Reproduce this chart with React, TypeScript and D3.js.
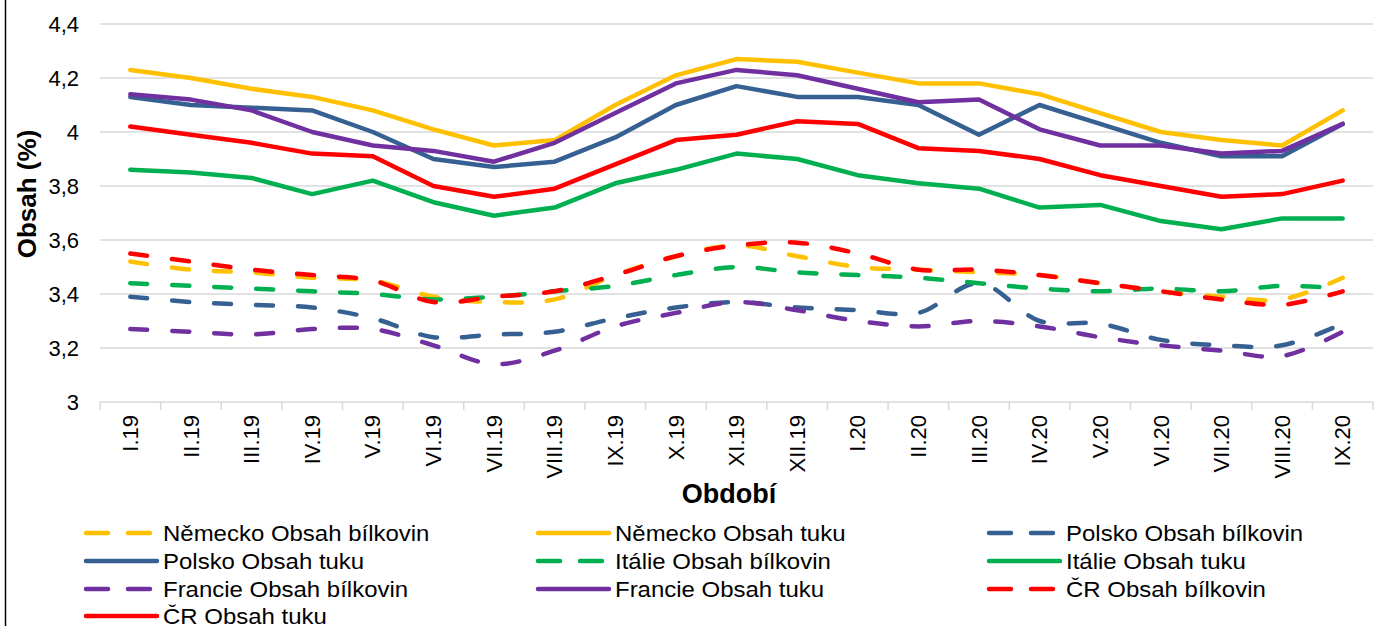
import React from "react";
import * as d3 from "d3";

const categories = ["I.19","II.19","III.19","IV.19","V.19","VI.19","VII.19","VIII.19","IX.19","X.19","XI.19","XII.19","I.20","II.20","III.20","IV.20","V.20","VI.20","VII.20","VIII.20","IX.20"];

const nemeckoBilk = [3.52,3.49,3.48,3.46,3.45,3.39,3.37,3.38,3.47,3.54,3.58,3.54,3.50,3.49,3.48,3.47,3.44,3.41,3.39,3.38,3.46];
const nemeckoTuk = [4.23,4.20,4.16,4.13,4.08,4.01,3.95,3.97,4.10,4.21,4.27,4.26,4.22,4.18,4.18,4.14,4.07,4.00,3.97,3.95,4.08];
const polskoBilk = [3.39,3.37,3.36,3.35,3.31,3.24,3.25,3.26,3.31,3.35,3.37,3.35,3.34,3.33,3.44,3.30,3.29,3.23,3.21,3.21,3.29];
const polskoTuk = [4.13,4.10,4.09,4.08,4.00,3.90,3.87,3.89,3.98,4.10,4.17,4.13,4.13,4.10,3.99,4.10,4.03,3.96,3.91,3.91,4.03];
const italieBilk = [3.44,3.43,3.42,3.41,3.40,3.38,3.39,3.41,3.43,3.47,3.50,3.48,3.47,3.46,3.44,3.42,3.41,3.42,3.41,3.43,3.42];
const italieTuk = [3.86,3.85,3.83,3.77,3.82,3.74,3.69,3.72,3.81,3.86,3.92,3.90,3.84,3.81,3.79,3.72,3.73,3.67,3.64,3.68,3.68];
const francieBilk = [3.27,3.26,3.25,3.27,3.27,3.21,3.14,3.19,3.28,3.33,3.37,3.34,3.30,3.28,3.30,3.28,3.24,3.21,3.19,3.17,3.26];
const francieTuk = [4.14,4.12,4.08,4.00,3.95,3.93,3.89,3.96,4.07,4.18,4.23,4.21,4.16,4.11,4.12,4.01,3.95,3.95,3.92,3.93,4.03];
const crBilk = [3.55,3.52,3.49,3.47,3.45,3.37,3.39,3.41,3.47,3.54,3.58,3.59,3.55,3.49,3.49,3.47,3.44,3.41,3.38,3.36,3.41];
const crTuk = [4.02,3.99,3.96,3.92,3.91,3.80,3.76,3.79,3.88,3.97,3.99,4.04,4.03,3.94,3.93,3.90,3.84,3.80,3.76,3.77,3.82];

const yTicks = [3, 3.2, 3.4, 3.6, 3.8, 4, 4.2, 4.4];

const series = [
  { name: "Německo Obsah bílkovin", values: nemeckoBilk, color: "#FFC000", dashed: true },
  { name: "Německo Obsah tuku", values: nemeckoTuk, color: "#FFC000", dashed: false },
  { name: "Polsko Obsah bílkovin", values: polskoBilk, color: "#376092", dashed: true },
  { name: "Polsko Obsah tuku", values: polskoTuk, color: "#376092", dashed: false },
  { name: "Itálie Obsah bílkovin", values: italieBilk, color: "#00B050", dashed: true },
  { name: "Itálie Obsah tuku", values: italieTuk, color: "#00B050", dashed: false },
  { name: "Francie Obsah bílkovin", values: francieBilk, color: "#7030A0", dashed: true },
  { name: "Francie Obsah tuku", values: francieTuk, color: "#7030A0", dashed: false },
  { name: "ČR Obsah bílkovin", values: crBilk, color: "#FF0000", dashed: true },
  { name: "ČR Obsah tuku", values: crTuk, color: "#FF0000", dashed: false },
];

const W = 1398, H = 626;
const left = 100, right = 1373, top = 24, bottom = 402;
const FONT = "'Liberation Sans', Arial, sans-serif";
const DASH = "17 25";
const SW = 4.5;

const locale = d3.formatLocale({ decimal: ",", thousands: " ", grouping: [3], currency: ["", ""] });
const fmt = locale.format(".1~f");

export default function App() {
  const xb = d3.scaleBand<string>().domain(categories).range([left, right]);
  const x = (c: string) => (xb(c) as number) + xb.bandwidth() / 2;
  const y = d3.scaleLinear().domain([3, 4.4]).range([bottom, top]);

  const lineSolid = d3.line<number>().x((_, i) => x(categories[i])).y((v) => y(v));
  const lineSmooth = d3.line<number>().x((_, i) => x(categories[i])).y((v) => y(v)).curve(d3.curveCatmullRom.alpha(0.5));

  const legendCols = [86, 538, 989];
  const legendRows = [533, 561, 589, 616];

  return (
    <svg width={W} height={H} style={{ position: "absolute", left: 0, top: 0, background: "#fff" }} fontFamily={FONT}>
      <rect x={0} y={0} width={W} height={H} fill="#fff" />
      <line x1={5.5} x2={5.5} y1={0} y2={H} stroke="#000" strokeWidth={1.5} />
      {yTicks.map((t) => (
        <g key={t}>
          <line x1={left} x2={right} y1={y(t)} y2={y(t)} stroke="#D9D9D9" strokeWidth={1.5} />
          <text x={79} y={y(t)} dy="0.35em" textAnchor="end" fontSize={22} fill="#000">{fmt(t)}</text>
        </g>
      ))}
      {categories.map((c, i) => (
        <line key={"t" + i} x1={xb(c) as number} x2={xb(c) as number} y1={bottom} y2={bottom + 8} stroke="#D9D9D9" strokeWidth={1.5} />
      ))}
      <line x1={right} x2={right} y1={bottom} y2={bottom + 8} stroke="#D9D9D9" strokeWidth={1.5} />
      {categories.map((c) => (
        <text key={c} transform={`translate(${x(c)},${415}) rotate(-90)`} dy="0.35em" textAnchor="end" fontSize={22} fill="#000">{c}</text>
      ))}
      <text x={729} y={503} textAnchor="middle" fontSize={27} fontWeight="bold" fill="#000">Období</text>
      <text transform={`translate(${36},${194}) rotate(-90)`} textAnchor="middle" fontSize={26} fontWeight="bold" fill="#000">Obsah (%)</text>
      {series.map((s) => (
        <path key={s.name} d={(s.dashed ? lineSmooth : lineSolid)(s.values) || ""} fill="none" stroke={s.color}
          strokeWidth={SW} strokeLinecap="round" strokeLinejoin="round" strokeDasharray={s.dashed ? DASH : undefined} />
      ))}
      {series.map((s, i) => {
        const lx = legendCols[i % 3];
        const ly = legendRows[Math.floor(i / 3)];
        return (
          <g key={"l" + i}>
            <line x1={lx} x2={lx + 71} y1={ly} y2={ly} stroke={s.color} strokeWidth={SW} strokeLinecap="round"
              strokeDasharray={s.dashed ? "22 20" : undefined} />
            <text transform={`translate(${lx + 77},${ly}) scale(1.09,1)`} dy="0.35em" fontSize={22} fill="#000">{s.name}</text>
          </g>
        );
      })}
    </svg>
  );
}
